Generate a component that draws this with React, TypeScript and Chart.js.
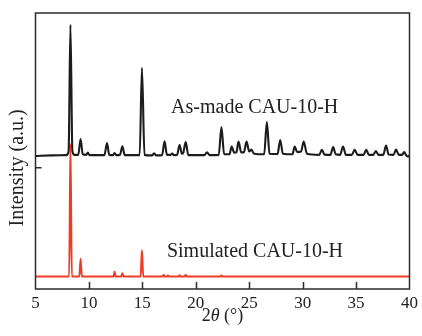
import React, { useEffect, useRef } from "react";
import { Chart, registerables } from "chart.js";

Chart.register(...registerables);

// 2θ axis ticks
const xTicks = [5, 10, 15, 20, 25, 30, 35, 40];

// As-made CAU-10-H pattern: [2θ, intensity (a.u., offset trace)]
const asMadePattern: [number, number][] = [
  [5.0, 48.2], [6.5, 48.4], [7.9, 48.5], [8.1, 50.0], [8.27, 95.7], [8.45, 50.0], [8.65, 48.6],
  [9.0, 48.6], [9.22, 54.3], [9.42, 48.8], [9.75, 48.6], [9.9, 49.4], [10.05, 48.5],
  [11.45, 48.5], [11.69, 52.9], [11.9, 48.6], [12.25, 48.5], [12.4, 49.3], [12.55, 48.5],
  [12.9, 48.6], [13.13, 51.7], [13.35, 48.5], [14.75, 48.5], [14.96, 80.1], [15.2, 48.6],
  [15.9, 48.4], [16.1, 49.2], [16.3, 48.4], [16.85, 48.5], [17.08, 53.5], [17.3, 48.6],
  [17.65, 48.6], [17.8, 49.1], [17.95, 48.5], [18.25, 48.6], [18.48, 52.2], [18.7, 49.0],
  [18.82, 49.3], [19.06, 53.2], [19.3, 48.5], [20.8, 48.5], [21.05, 49.5], [21.3, 48.5],
  [22.15, 48.6], [22.4, 58.7], [22.65, 48.8], [23.15, 48.8], [23.36, 51.6], [23.6, 49.4],
  [23.8, 49.5], [24.0, 53.4], [24.25, 49.5], [24.5, 49.5], [24.75, 53.4], [25.0, 49.8],
  [25.2, 50.5], [25.45, 49.0], [26.4, 48.8], [26.65, 60.5], [26.9, 49.0], [27.65, 48.9],
  [27.9, 54.0], [28.15, 49.0], [29.05, 48.8], [29.25, 51.6], [29.5, 49.6], [29.85, 49.8],
  [30.1, 53.4], [30.4, 49.0], [31.55, 48.6], [31.8, 50.4], [32.05, 48.7], [32.6, 48.6],
  [32.85, 51.4], [33.1, 48.8], [33.5, 48.6], [33.78, 51.6], [34.05, 48.6], [34.6, 48.6],
  [34.87, 50.4], [35.15, 48.6], [35.7, 48.6], [35.95, 50.4], [36.2, 48.6], [36.6, 48.6],
  [36.85, 50.0], [37.1, 48.6], [37.55, 48.6], [37.8, 52.0], [38.05, 48.7], [38.5, 48.6],
  [38.74, 50.5], [39.0, 48.6], [39.3, 48.6], [39.5, 49.6], [39.7, 48.4], [39.9, 48.0],
  [40.0, 48.5],
];

// Simulated CAU-10-H pattern: [2θ, intensity (a.u.)]
const simulatedPattern: [number, number][] = [
  [5.0, 4.5], [8.15, 4.5], [8.27, 52.5], [8.4, 4.5], [9.1, 4.5], [9.22, 11.0], [9.34, 4.5],
  [12.3, 4.5], [12.4, 6.3], [12.5, 4.5], [13.02, 4.5], [13.13, 5.7], [13.24, 4.5],
  [14.84, 4.5], [14.96, 14.1], [15.08, 4.5], [16.9, 4.5], [17.0, 5.1], [17.1, 4.5],
  [17.3, 4.5], [17.4, 4.9], [17.5, 4.5], [18.4, 4.5], [18.48, 5.0], [18.58, 4.5],
  [18.96, 4.5], [19.06, 5.2], [19.16, 4.5], [22.3, 4.5], [22.4, 4.9], [22.5, 4.5],
  [40.0, 4.5],
];

const asMadeLabel = "As-made CAU-10-H";
const simulatedLabel = "Simulated CAU-10-H";
const yTitle = "Intensity (a.u.)";
const leftTickValue = 43.9;

const SERIF = '"Liberation Serif", "Times New Roman", serif';

const decorPlugin = {
  id: "decor",
  afterDatasetsDraw(chart: any) {
    const { ctx, chartArea, scales } = chart;
    const xs = scales.x;
    const ys = scales.y;
    const { left, right, top, bottom } = chartArea;
    ctx.save();
    // frame
    ctx.strokeStyle = "#2b2b2b";
    ctx.lineWidth = 1.5;
    ctx.strokeRect(left, top, right - left, bottom - top);
    // inward ticks
    ctx.beginPath();
    xTicks.forEach((v) => {
      if (v === xTicks[0] || v === xTicks[xTicks.length - 1]) return;
      const px = Math.round(xs.getPixelForValue(v)) + 0.5;
      ctx.moveTo(px, bottom);
      ctx.lineTo(px, bottom - 7);
    });
    const py = ys.getPixelForValue(leftTickValue);
    ctx.moveTo(left, py);
    ctx.lineTo(left + 6, py);
    ctx.stroke();

    ctx.fillStyle = "#222";
    // annotations
    ctx.font = `20px ${SERIF}`;
    ctx.textAlign = "left";
    ctx.textBaseline = "alphabetic";
    ctx.fillText(asMadeLabel, xs.getPixelForValue(17.69), ys.getPixelForValue(63.7));
    ctx.fillText(simulatedLabel, xs.getPixelForValue(17.3), ys.getPixelForValue(11.7));

    // y title
    ctx.save();
    ctx.translate(22.5, ys.getPixelForValue(leftTickValue));
    ctx.rotate(-Math.PI / 2);
    ctx.textAlign = "center";
    ctx.font = `20px ${SERIF}`;
    ctx.fillText(yTitle, 0, 0);
    ctx.restore();

    // x title: 2θ (°) with italic θ
    const parts = [
      { t: "2", f: `18px ${SERIF}` },
      { t: "θ", f: `italic 18px ${SERIF}` },
      { t: " (°)", f: `18px ${SERIF}` },
    ];
    let total = 0;
    parts.forEach((p) => {
      ctx.font = p.f;
      total += ctx.measureText(p.t).width;
    });
    let cx = (left + right) / 2 - total / 2;
    ctx.textAlign = "left";
    parts.forEach((p) => {
      ctx.font = p.f;
      ctx.fillText(p.t, cx, 321);
      cx += ctx.measureText(p.t).width;
    });
    ctx.restore();
  },
};

export default function App() {
  const ref = useRef<HTMLCanvasElement | null>(null);
  useEffect(() => {
    if (!ref.current) return;
    const chart = new Chart(ref.current, {
      type: "line",
      data: {
        datasets: [
          {
            label: asMadeLabel,
            data: asMadePattern.map(([x, y]) => ({ x, y })),
            borderColor: "#1c1c1c",
            borderWidth: 2.1,
            pointRadius: 0,
            cubicInterpolationMode: "monotone",
            order: 1,
          },
          {
            label: simulatedLabel,
            data: simulatedPattern.map(([x, y]) => ({ x, y })),
            borderColor: "#ee3b26",
            borderWidth: 2,
            pointRadius: 0,
            cubicInterpolationMode: "monotone",
            order: 2,
          },
        ],
      },
      options: {
        animation: false,
        responsive: false,
        events: [],
        layout: { padding: { top: 13, right: 9.5, left: 0, bottom: 0 } },
        plugins: { legend: { display: false }, tooltip: { enabled: false } },
        scales: {
          x: {
            type: "linear",
            min: 5,
            max: 40,
            afterFit: (s: any) => {
              s.height = 47;
            },
            afterBuildTicks: (s: any) => {
              s.ticks = xTicks.map((v) => ({ value: v }));
            },
            grid: { display: false, drawTicks: false },
            border: { display: false },
            ticks: {
              autoSkip: false,
              maxRotation: 0,
              padding: 4,
              color: "#222",
              font: { family: SERIF, size: 17 },
            },
          },
          y: {
            min: 0,
            max: 100,
            afterFit: (s: any) => {
              s.width = 35.5;
            },
            grid: { display: false, drawTicks: false },
            border: { display: false },
            ticks: { display: false },
          },
        },
      },
      plugins: [decorPlugin],
    });
    return () => chart.destroy();
  }, []);
  return (
    <div style={{ position: "fixed", left: 0, top: 0, width: 422, height: 336, background: "#fff" }}>
      <canvas ref={ref} width={422} height={336} style={{ display: "block" }} />
    </div>
  );
}
